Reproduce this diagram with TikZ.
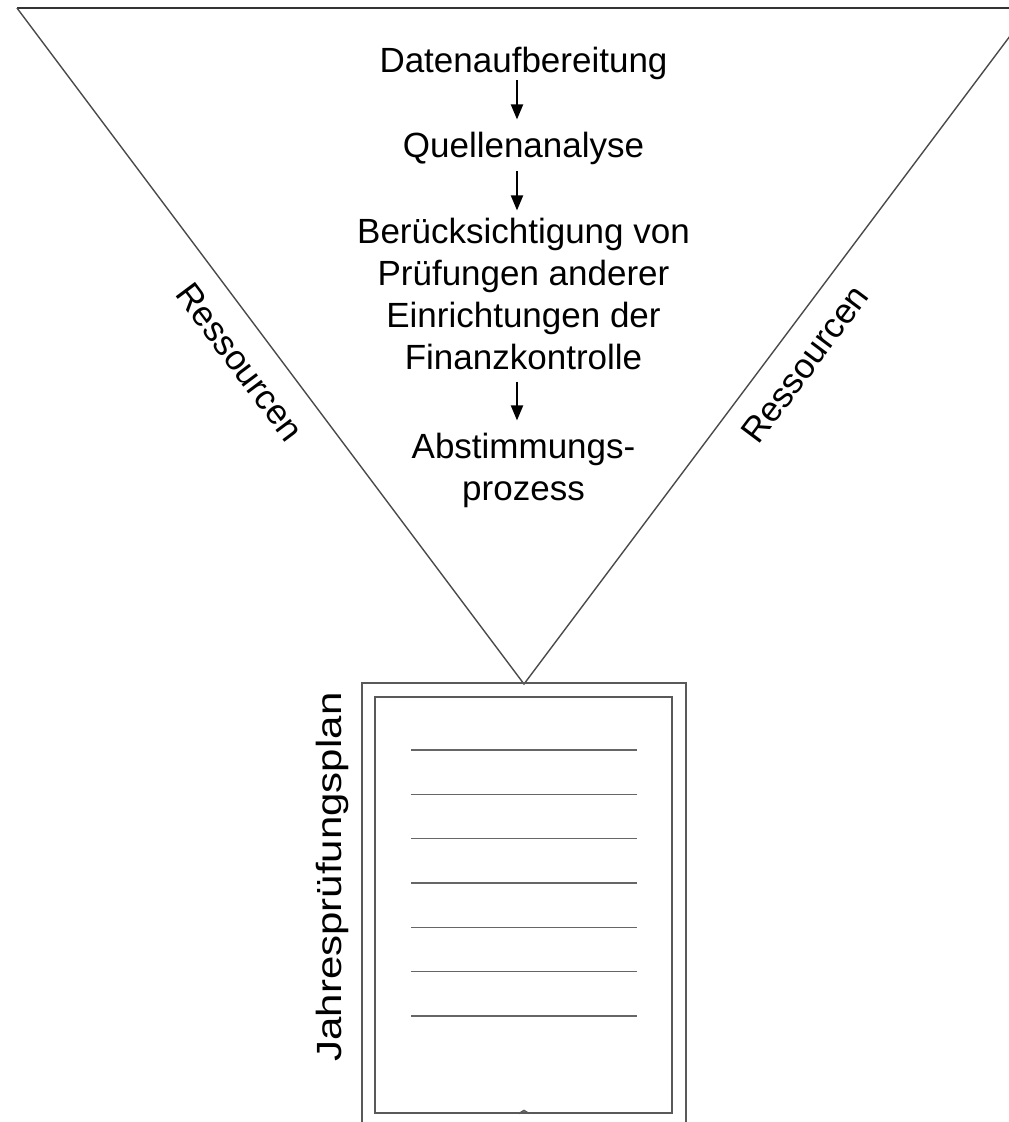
\documentclass[tikz,border=0pt]{standalone}
\usepackage{fontspec}
\setmainfont{Liberation Sans}
\usetikzlibrary{arrows.meta}
\begin{document}
\begin{tikzpicture}[x=1pt,y=-1pt,
  lbl/.style={font=\fontsize{35}{42}\selectfont, inner sep=0pt, align=center},
  arr/.style={line width=2pt, -{Triangle[width=12pt,length=15pt]}},
  edge/.style={draw=black!70, line width=1.4pt},
  topedge/.style={draw=black!80, line width=1.8pt},
  doc/.style={draw=black!65, line width=1.6pt},
  rule/.style={draw=black!60, line width=1.5pt}]
\useasboundingbox (0,0) rectangle (1009,1122);
\fill[white] (0,0) rectangle (1009,1122);
\clip (0,0) rectangle (1009,1122);
% funnel
\coordinate (tl) at (17,8);
\coordinate (tr) at (1031,8);
\coordinate (apex) at (524,684);
\draw[topedge] (tl) -- (tr);
\draw[edge] (tl) -- (apex) -- (tr);
% document
\draw[doc] (362,1140) -- (362,683) -- (686,683) -- (686,1140);
\draw[doc] (375,697) rectangle (672,1113);
\draw[doc] (519,1113.5) -- (524,1110.5) -- (529,1113.5);
\foreach \yy in {750,794.33,838.67,883,927.33,971.67,1016}
  \draw[rule] (411,\yy) -- (637,\yy);
% texts
\node[lbl, anchor=base] (d) at (523.5,72) {Datenaufbereitung};
\node[lbl, anchor=base] (q) at (523.5,157) {Quellenanalyse};
\node[lbl, anchor=base] (b) at (523.5,369) {Berücksichtigung von\\Prüfungen anderer\\Einrichtungen der\\Finanzkontrolle};
\node[lbl, anchor=base] (a) at (523.5,500) {Abstimmungs-\\prozess};
\node[lbl, rotate=-53.13] (rl) at (240,362) {Ressourcen};
\node[lbl, rotate=53.13] (rr) at (805,364) {Ressourcen};
\node[lbl, rotate=90] (j) at (332,877) {\scalebox{1.2}[1]{Jahresprüfungsplan}};
% arrows
\draw[arr, shorten <=1pt, shorten >=12pt] ([xshift=-6.5pt]d.south) -- ([xshift=-6.5pt]d.south |- q.north);
\draw[arr, shorten <=7pt, shorten >=7pt] ([xshift=-6.5pt]q.south) -- ([xshift=-6.5pt]q.south |- b.north);
\draw[arr, shorten <=12pt, shorten >=12pt] ([xshift=-6.5pt]b.south) -- ([xshift=-6.5pt]b.south |- a.north);
\end{tikzpicture}
\end{document}
